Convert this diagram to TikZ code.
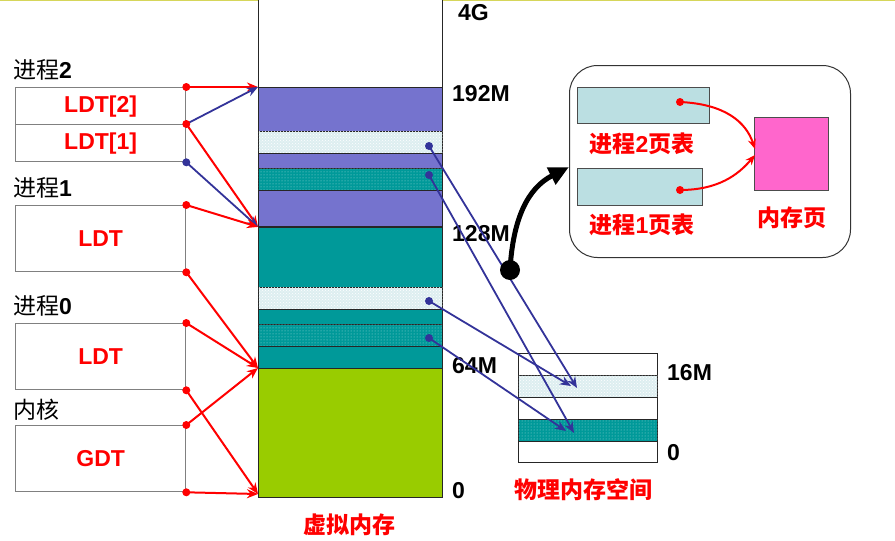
\documentclass[tikz,border=0pt]{standalone}
\usepackage{fontspec}
\setmainfont{Liberation Sans}
\newfontfamily\cjk{Noto Sans CJK SC}
\usetikzlibrary{patterns,arrows.meta}
\definecolor{vpurple}{RGB}{117,115,206}
\definecolor{vteal}{RGB}{0,153,153}
\definecolor{vgreen}{RGB}{153,204,0}
\definecolor{vlight}{RGB}{221,238,240}
\definecolor{lblue}{RGB}{51,51,153}
\definecolor{ptblue}{RGB}{187,223,226}
\definecolor{vpink}{RGB}{255,102,204}
\definecolor{topyellow}{RGB}{214,214,90}
\definecolor{boxgray}{RGB}{128,128,128}
\begin{document}
\begin{tikzpicture}[x=1pt,y=-1pt,
  seg/.style={draw=black!85, line width=0.9pt, anchor=north west, inner sep=0pt, minimum width=184pt},
  pseg/.style={draw=black!85, line width=0.9pt, anchor=north west, inner sep=0pt, minimum width=139pt},
  lightdots/.style={fill=vlight, postaction={pattern=crosshatch dots, pattern color=white}},
  tealdots/.style={fill=vteal, postaction={pattern=dots, pattern color=white!60!vteal}},
  tbox/.style={draw=boxgray, line width=1.3pt, anchor=north west, inner sep=0pt, minimum width=170pt, text=red,
    font=\fontsize{23}{25}\selectfont\bfseries},
  lab/.style={inner sep=0pt, font=\fontsize{23}{25}\selectfont\bfseries},
  cjklab/.style={inner sep=0pt, font=\fontsize{23}{25}\selectfont\cjk},
  redlab/.style={inner sep=0pt, text=red, font=\fontsize{23}{25}\selectfont\cjk\bfseries},
  rdot/.style={fill=red},
  bdot/.style={fill=lblue},
  rarr/.style={draw=red, line width=2pt, -{Stealth[length=11pt,width=9pt]}},
  barr/.style={draw=lblue, line width=1.8pt, -{Stealth[length=11pt,width=9pt]}}
]
\useasboundingbox (0,0) rectangle (895,541);
\clip (0,0) rectangle (895,541);

% top slide line
\draw[topyellow, line width=1.5pt] (0,0.6) -- (895,0.6);

% ---------- virtual memory column ----------
\node[seg, fill=white, minimum height=92pt] (vtop) at (258,-5) {};
\node[seg, fill=vpurple, minimum height=44pt] (vp1) at (258,87) {};
\node[seg, lightdots, minimum height=22pt] (vl1) at (258,131) {};
\node[seg, fill=vpurple, minimum height=15pt] (vp2) at (258,153) {};
\node[seg, tealdots, minimum height=22pt] (vt1) at (258,168) {};
\node[seg, fill=vpurple, minimum height=36pt] (vp3) at (258,190) {};
\node[seg, fill=vteal, minimum height=60pt] (vc1) at (258,227) {};
\node[seg, lightdots, minimum height=22pt] (vl2) at (258,287) {};
\node[seg, fill=vteal, minimum height=15pt] (vc2) at (258,309) {};
\node[seg, tealdots, minimum height=22pt] (vt2) at (258,324) {};
\node[seg, fill=vteal, minimum height=22pt] (vc3) at (258,346) {};
\node[seg, fill=vgreen, minimum height=129pt] (vg) at (258,368) {};

\coordinate (v192) at (vp1.north west);
\coordinate (v128) at (vp3.south west);
\coordinate (v64) at (vg.north west);
\coordinate (v0) at (258,494);

% labels of virtual memory
\node[lab, anchor=west] (l4g) at (458,13) {4G};
\node[lab, anchor=west] (l192) at (452,94) {192M};
\node[lab, anchor=west] (l128) at (452,234) {128M};
\node[lab, anchor=west] (l64) at (452,366) {64M};
\node[lab, anchor=west] (l0) at (452,491) {0};
\node[redlab] (vmname) at (349,525) {虚拟内存};

% ---------- physical memory ----------
\node[pseg, fill=white, minimum height=22pt] (pw1) at (518,353) {};
\node[pseg, lightdots, minimum height=22pt] (pl) at (518,375) {};
\node[pseg, fill=white, minimum height=22pt] (pw2) at (518,397) {};
\node[pseg, tealdots, minimum height=22pt] (pt) at (518,419) {};
\node[pseg, fill=white, minimum height=21pt] (pw3) at (518,441) {};
\node[lab, anchor=west] (l16) at (667,373) {16M};
\node[lab, anchor=west] (lp0) at (667,453) {0};
\node[redlab] (pmname) at (583,490) {物理内存空间};

% ---------- left tables ----------
\node[cjklab, anchor=west] (n2) at (13,70) {进程\textbf{\fontspec{Liberation Sans}2}};
\node[tbox, minimum height=37pt] (ldt2) at (15,87) {LDT[2]};
\node[tbox, minimum height=37pt] (ldt1) at (15,124) {LDT[1]};
\node[cjklab, anchor=west] (n1) at (13,188) {进程\textbf{\fontspec{Liberation Sans}1}};
\node[tbox, minimum height=66pt] (ldtp1) at (15,205) {LDT};
\node[cjklab, anchor=west] (n0) at (13,306) {进程\textbf{\fontspec{Liberation Sans}0}};
\node[tbox, minimum height=66pt] (ldtp0) at (15,323) {LDT};
\node[cjklab, anchor=west] (nk) at (13,410) {内核};
\node[tbox, minimum height=66pt, text width=164pt, align=center] (gdt) at (15,425) {GDT};

% ---------- left connectors ----------
\draw[rarr] (ldt2.north east) -- (v192);
\draw[barr] (ldt1.north east) -- (v192);
\draw[rarr] (ldt1.north east) -- (v128);
\draw[barr] (ldt1.south east) -- (v128);
\draw[rarr] (ldtp1.north east) -- (v128);
\draw[rarr] (ldtp1.south east) -- (v64);
\draw[rarr] (ldtp0.north east) -- (v64);
\draw[rarr] (ldtp0.south east) -- (v0);
\draw[rarr] (gdt.north east) -- (v64);
\draw[rarr] (gdt.south east) -- (v0);
\foreach \a in {ldt2.north east, ldt1.north east, ldtp1.north east, ldtp1.south east,
  ldtp0.north east, ldtp0.south east, gdt.north east, gdt.south east}
  \fill[rdot] (\a) circle (4pt);
\fill[bdot] (ldt1.south east) circle (4pt);

% ---------- virtual to physical connectors ----------
\coordinate (d1) at (429,146);
\coordinate (d2) at (429,175);
\coordinate (d3) at (429,301);
\coordinate (d4) at (429,338);
\coordinate (e1) at (577,388);
\coordinate (e2) at (574,433);
\coordinate (e3) at (571,386);
\coordinate (e4) at (566,431);
\draw[barr] (d1) -- (e1);
\draw[barr] (d2) -- (e2);
\draw[barr] (d3) -- (e3);
\draw[barr] (d4) -- (e4);
\foreach \a in {d1,d2,d3,d4} \fill[bdot] (\a) circle (4pt);

% ---------- inset ----------
\node[draw=black!80, line width=1pt, rounded corners=28pt, anchor=north west, inner sep=0pt,
  minimum width=281pt, minimum height=192pt] (inset) at (569,65) {};
\node[draw=black!70, line width=1pt, fill=ptblue, anchor=north west, inner sep=0pt,
  minimum width=132pt, minimum height=36pt] (pt2) at (577,87) {};
\node[draw=black!70, line width=1pt, fill=ptblue, anchor=north west, inner sep=0pt,
  minimum width=125pt, minimum height=37pt] (pt1) at (577,168) {};
\node[draw=black!70, line width=1pt, fill=vpink, anchor=north west, inner sep=0pt,
  minimum width=74pt, minimum height=73pt] (page) at (754,117) {};
\node[redlab] (pt2lab) at (642,144) {进程\textbf{\fontspec{Liberation Sans}2}页表};
\node[redlab] (pt1lab) at (642,225) {进程\textbf{\fontspec{Liberation Sans}1}页表};
\node[redlab] (pagelab) at (792,218) {内存页};
\coordinate (s2) at (680,102);
\coordinate (s1) at (680,190);
\coordinate (pin2) at (755,149);
\coordinate (pin1) at (755,155);
\draw[draw=red, line width=2pt, -{Stealth[length=10pt,width=8pt]}]
  (s2) .. controls (725,104) and (746,122) .. (pin2);
\draw[draw=red, line width=2pt, -{Stealth[length=10pt,width=8pt]}]
  (s1) .. controls (718,190) and (738,175) .. (pin1);
\fill[rdot] (s2) circle (4pt);
\fill[rdot] (s1) circle (4pt);

% ---------- black arrow ----------
\coordinate (bk) at (510,270);
\coordinate (bkend) at (569,167);
\draw[line width=5pt, -{Triangle[length=20pt,width=18pt]}]
  (bk) .. controls (513,218) and (528,188) .. (bkend);
\fill (bk) circle (10pt);
\end{tikzpicture}
\end{document}
